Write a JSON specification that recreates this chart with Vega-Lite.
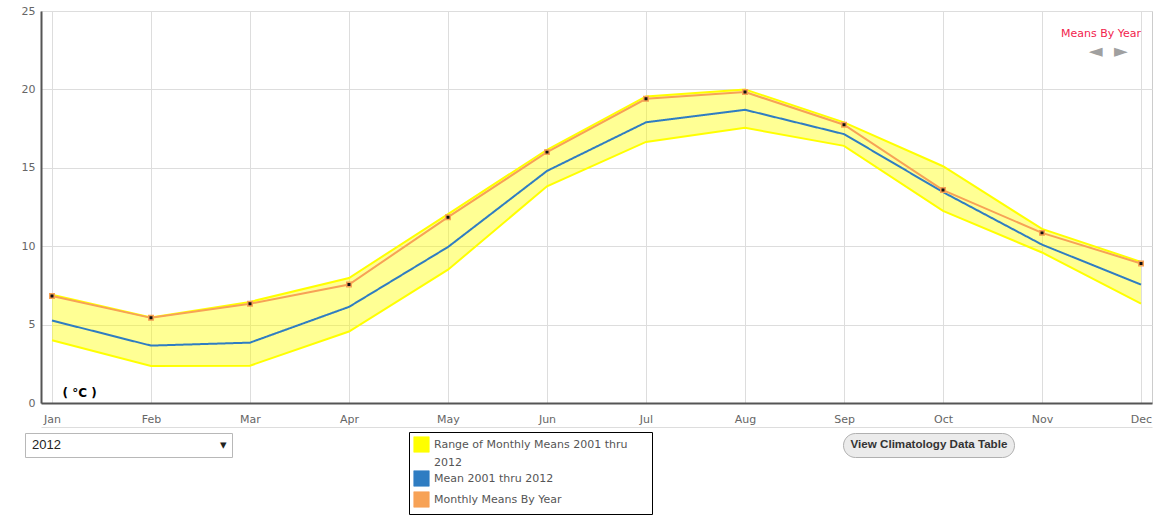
{
  "$schema": "https://vega.github.io/schema/vega-lite/v6.json",
  "width": 1111,
  "height": 392,
  "autosize": {"type": "none"},
  "padding": {"left": 41, "top": 11, "right": 2, "bottom": 117},
  "background": "white",
  "title": {
    "text": "Means By Year",
    "subtitle": "◄\u00a0\u00a0►\u2800",
    "orient": "top",
    "anchor": "end",
    "frame": "group",
    "offset": -56,
    "dx": -11,
    "font": "DejaVu Sans",
    "fontSize": 11,
    "fontWeight": "normal",
    "color": "#f2234d",
    "subtitleFont": "DejaVu Sans",
    "subtitleFontSize": 18,
    "subtitleColor": "#a0a0a0",
    "subtitlePadding": 4
  },
  "config": {
    "view": {"stroke": "#cccccc", "strokeWidth": 1},
    "axis": {
      "labelFont": "DejaVu Sans",
      "labelFontSize": 11,
      "labelColor": "#666666",
      "gridColor": "#dddddd",
      "gridWidth": 1,
      "ticks": false,
      "domainColor": "#555555",
      "domainWidth": 2
    }
  },
  "data": {
    "values": [
      {"month": "Jan", "lo": 4.0, "hi": 6.9, "mean": 5.26, "y2012": 6.82},
      {"month": "Feb", "lo": 2.36, "hi": 5.45, "mean": 3.66, "y2012": 5.43},
      {"month": "Mar", "lo": 2.38, "hi": 6.45, "mean": 3.85, "y2012": 6.33},
      {"month": "Apr", "lo": 4.56, "hi": 7.97, "mean": 6.13, "y2012": 7.56},
      {"month": "May", "lo": 8.5, "hi": 12.05, "mean": 9.95, "y2012": 11.85},
      {"month": "Jun", "lo": 13.82, "hi": 16.15, "mean": 14.8, "y2012": 16.0},
      {"month": "Jul", "lo": 16.65, "hi": 19.55, "mean": 17.9, "y2012": 19.4},
      {"month": "Aug", "lo": 17.55, "hi": 20.0, "mean": 18.7, "y2012": 19.83},
      {"month": "Sep", "lo": 16.4, "hi": 17.9, "mean": 17.15, "y2012": 17.75},
      {"month": "Oct", "lo": 12.25, "hi": 15.1, "mean": 13.45, "y2012": 13.58},
      {"month": "Nov", "lo": 9.6, "hi": 11.1, "mean": 10.1, "y2012": 10.85},
      {"month": "Dec", "lo": 6.34, "hi": 9.0, "mean": 7.55, "y2012": 8.9}
    ]
  },
  "resolve": {"axis": {"x": "independent"}},
  "layer": [
    {
      "encoding": {
        "x": {
          "field": "month",
          "type": "ordinal",
          "sort": ["Jan","Feb","Mar","Apr","May","Jun","Jul","Aug","Sep","Oct","Nov","Dec"],
          "scale": {"type": "point", "padding": 0.111},
          "axis": {"title": null, "labelAngle": 0, "labelPadding": 10, "grid": true}
        }
      },
      "layer": [
        {
          "mark": {"type": "area", "fillOpacity": 0.42},
          "encoding": {
            "y": {
              "field": "lo",
              "type": "quantitative",
              "scale": {"domain": [0, 25], "nice": false},
              "axis": {
                "values": [0, 5, 10, 15, 20, 25],
                "labelPadding": 6,
                "title": "( °C )",
                "titleAngle": 0,
                "titleX": 21,
                "titleY": 385,
                "titleAlign": "left",
                "titleBaseline": "alphabetic",
                "titleFont": "DejaVu Sans",
                "titleFontSize": 12,
                "titleFontWeight": "bold",
                "titleColor": "#000000"
              }
            },
            "y2": {"field": "hi"},
            "color": {
              "datum": "Range of Monthly Means 2001 thru 2012",
              "scale": {
                "domain": ["Range of Monthly Means 2001 thru 2012", "Mean 2001 thru 2012", "Monthly Means By Year"],
                "range": ["#ffff00", "#2f7dc2", "#f7a256"]
              },
              "legend": {
                "title": null,
                "orient": "none",
                "legendX": 368,
                "legendY": 421,
                "strokeColor": "#000000",
                "fillColor": "#ffffff",
                "padding": 4,
                "symbolType": "square",
                "symbolSize": 240,
                "labelOffset": 4,
                "rowPadding": 0,
                "labelFont": "DejaVu Sans",
                "labelFontSize": 11,
                "labelColor": "#555555",
                "labelLimit": 400,
                "labelExpr": "datum.label == 'Range of Monthly Means 2001 thru 2012' ? ['Range of Monthly Means 2001 thru\u00a0\u2800\u2800', '2012'] : datum.label",
                "encode": {
                  "symbols": {
                    "update": {
                      "fill": {"scale": "color", "field": "value"},
                      "stroke": {"scale": "color", "field": "value"},
                      "strokeWidth": {"value": 1},
                      "opacity": {"value": 1},
                      "fillOpacity": {"value": 1},
                      "strokeOpacity": {"value": 0.6}
                    }
                  },
                  "labels": {
                    "update": {"lineHeight": {"value": 18}}
                  }
                }
              }
            }
          }
        },
        {
          "mark": {"type": "line", "strokeWidth": 2},
          "encoding": {
            "y": {"field": "lo", "type": "quantitative"},
            "color": {"datum": "Range of Monthly Means 2001 thru 2012"}
          }
        },
        {
          "mark": {"type": "line", "strokeWidth": 2},
          "encoding": {
            "y": {"field": "hi", "type": "quantitative"},
            "color": {"datum": "Range of Monthly Means 2001 thru 2012"}
          }
        },
        {
          "mark": {"type": "line", "strokeWidth": 2},
          "encoding": {
            "y": {"field": "mean", "type": "quantitative"},
            "color": {"datum": "Mean 2001 thru 2012"},
            "strokeDash": {
              "datum": "View Climatology Data Table",
              "scale": {"range": [[1, 0]]},
              "legend": {
                "title": null,
                "orient": "none",
                "legendX": 802,
                "legendY": 422,
                "cornerRadius": 12,
                "fillColor": "#ebebeb",
                "strokeColor": "#b0b0b0",
                "padding": 6,
                "symbolSize": 0,
                "symbolOpacity": 0,
                "symbolStrokeWidth": 0,
                "labelOffset": -10,
                "labelFont": "Liberation Sans",
                "labelFontSize": 11.6,
                "labelFontWeight": "bold",
                "labelColor": "#333333",
                "labelLimit": 400
              }
            }
          }
        },
        {
          "mark": {"type": "line", "strokeWidth": 2},
          "encoding": {
            "y": {"field": "y2012", "type": "quantitative"},
            "color": {"datum": "Monthly Means By Year"}
          }
        }
      ]
    },
    {
      "mark": {"type": "point", "filled": true, "fill": "#111111", "stroke": "#f7a256", "strokeWidth": 1.5, "size": 20, "opacity": 1},
      "encoding": {
        "x": {
          "field": "month",
          "type": "ordinal",
          "sort": ["Jan","Feb","Mar","Apr","May","Jun","Jul","Aug","Sep","Oct","Nov","Dec"],
          "axis": {"orient": "bottom", "offset": 24, "labels": false, "grid": false, "title": null, "domainColor": "#dddddd", "domainWidth": 1}
        },
        "y": {"field": "y2012", "type": "quantitative"},
        "shape": {
          "datum": "2012",
          "scale": {"range": ["square"]},
          "legend": {
            "title": null,
            "orient": "none",
            "legendX": -16,
            "legendY": 422,
            "fillColor": "#ffffff",
            "strokeColor": "#b8b8b8",
            "padding": 5,
            "symbolSize": 0,
            "symbolOpacity": 0,
            "symbolStrokeWidth": 0,
            "labelOffset": -11,
            "labelFont": "Liberation Sans",
            "labelFontSize": 13,
            "labelColor": "#222222",
            "labelLimit": 400,
            "labelExpr": "datum.label + '\u00a0\u00a0\u00a0\u00a0\u00a0\u00a0\u00a0\u00a0\u00a0\u00a0\u00a0\u00a0\u00a0\u00a0\u00a0\u00a0\u00a0\u00a0\u00a0\u00a0\u00a0\u00a0\u00a0\u00a0\u00a0\u00a0\u00a0\u00a0\u00a0\u00a0\u00a0\u00a0\u00a0\u00a0\u00a0\u00a0\u00a0\u00a0\u00a0\u00a0\u00a0\u00a0\u00a0\u00a0▾'"
          }
        }
      }
    }
  ]
}
